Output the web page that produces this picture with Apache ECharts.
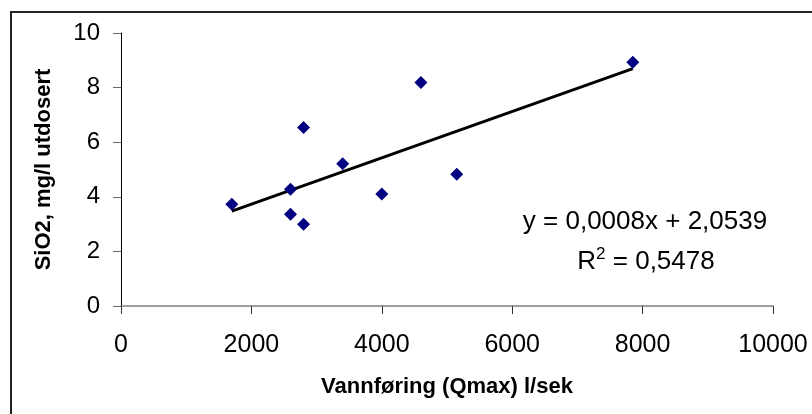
<!DOCTYPE html>
<html lang="no">
<head>
<meta charset="UTF-8">
<title>SiO2 mot vannføring</title>
<script src="https://cdn.jsdelivr.net/npm/echarts@6/dist/echarts.min.js"></script>
<style>
    html, body { margin: 0; padding: 0; background: #fff; }
    #chart { width: 812px; height: 414px; }
</style>
</head>
<body>
<div id="chart"></div>
<script type="text/javascript">
    // målinger: vannføring (l/sek) og SiO2 (mg/l)
    var flow = [1700, 2600, 2600, 2800, 2800, 3400, 4000, 4600, 5150, 7850];
    var sio2 = [3.73, 4.28, 3.36, 6.54, 2.99, 5.21, 4.10, 8.19, 4.83, 8.93];
    var eqLine = 'y = 0,0008x + 2,0539';
    var r2Value = ' = 0,5478';

    var points = flow.map(function (x, i) { return [x, sio2[i]]; });

    // lineær trendlinje (minste kvadraters metode)
    var n = flow.length, sx = 0, sy = 0, sxx = 0, sxy = 0;
    for (var i = 0; i < n; i++) {
        sx += flow[i]; sy += sio2[i];
        sxx += flow[i] * flow[i]; sxy += flow[i] * sio2[i];
    }
    var slope = (n * sxy - sx * sy) / (n * sxx - sx * sx);
    var icpt = (sy - slope * sx) / n;
    var xMin = Math.min.apply(null, flow), xMax = Math.max.apply(null, flow);
    var trend = [[xMin, icpt + slope * xMin], [xMax, icpt + slope * xMax]];

    var font = '"Liberation Sans", Arial, sans-serif';
    var chart = echarts.init(document.getElementById('chart'), null, { renderer: 'canvas' });
    var option = {
        animation: false,
        backgroundColor: '#fff',
        grid: { left: 121, right: 39, top: 33, bottom: 108 },
        xAxis: {
            type: 'value',
            min: 0, max: 10000, interval: 2000,
            name: 'Vannføring (Qmax) l/sek',
            nameLocation: 'middle',
            nameGap: 70,
            nameTextStyle: { fontFamily: font, fontWeight: 'bold', fontSize: 22, color: '#000' },
            axisLine: { show: true, onZero: false, lineStyle: { color: '#808080', width: 1.5 } },
            axisTick: { show: true, length: 8, lineStyle: { color: '#333' } },
            axisLabel: {
                margin: 27, fontFamily: font, fontSize: 25, color: '#000',
                formatter: function (v) { return String(v); }
            },
            splitLine: { show: false }
        },
        yAxis: {
            type: 'value',
            min: 0, max: 10, interval: 2,
            name: 'SiO2, mg/l utdosert',
            nameLocation: 'middle',
            nameGap: 66,
            nameRotate: 90,
            nameTextStyle: { fontFamily: font, fontWeight: 'bold', fontSize: 22, color: '#000' },
            axisLine: { show: true, lineStyle: { color: '#000', width: 1 } },
            axisTick: { show: true, length: 8, lineStyle: { color: '#666' } },
            axisLabel: { margin: 21, fontFamily: font, fontSize: 24, color: '#000' },
            splitLine: { show: false }
        },
        series: [
            {
                name: 'SiO2',
                type: 'scatter',
                symbol: 'diamond',
                symbolSize: 13,
                itemStyle: { color: '#000080', opacity: 1 },
                data: points,
                z: 3
            },
            {
                name: 'Trend',
                type: 'line',
                data: trend,
                symbol: 'none',
                lineStyle: { color: '#000', width: 3 },
                z: 2
            }
        ],
        graphic: [
            {
                type: 'rect',
                shape: { x: 11, y: 12, width: 900, height: 500 },
                style: { fill: 'none', stroke: '#222', lineWidth: 2 },
                silent: true
            },
            {
                type: 'text',
                x: 645, y: 222,
                style: {
                    text: eqLine, align: 'center', verticalAlign: 'middle',
                    font: '26px ' + font, fill: '#000'
                }
            },
            {
                type: 'text',
                x: 646, y: 262,
                style: {
                    text: '{n|R}{s|2}{n|' + r2Value + '}',
                    align: 'center', verticalAlign: 'middle',
                    rich: {
                        n: { fontFamily: font, fontSize: 26, color: '#000', lineHeight: 32 },
                        s: { fontFamily: font, fontSize: 17, color: '#000', verticalAlign: 'top', lineHeight: 15 }
                    }
                }
            }
        ]
    };
    chart.setOption(option);
</script>
</body>
</html>
